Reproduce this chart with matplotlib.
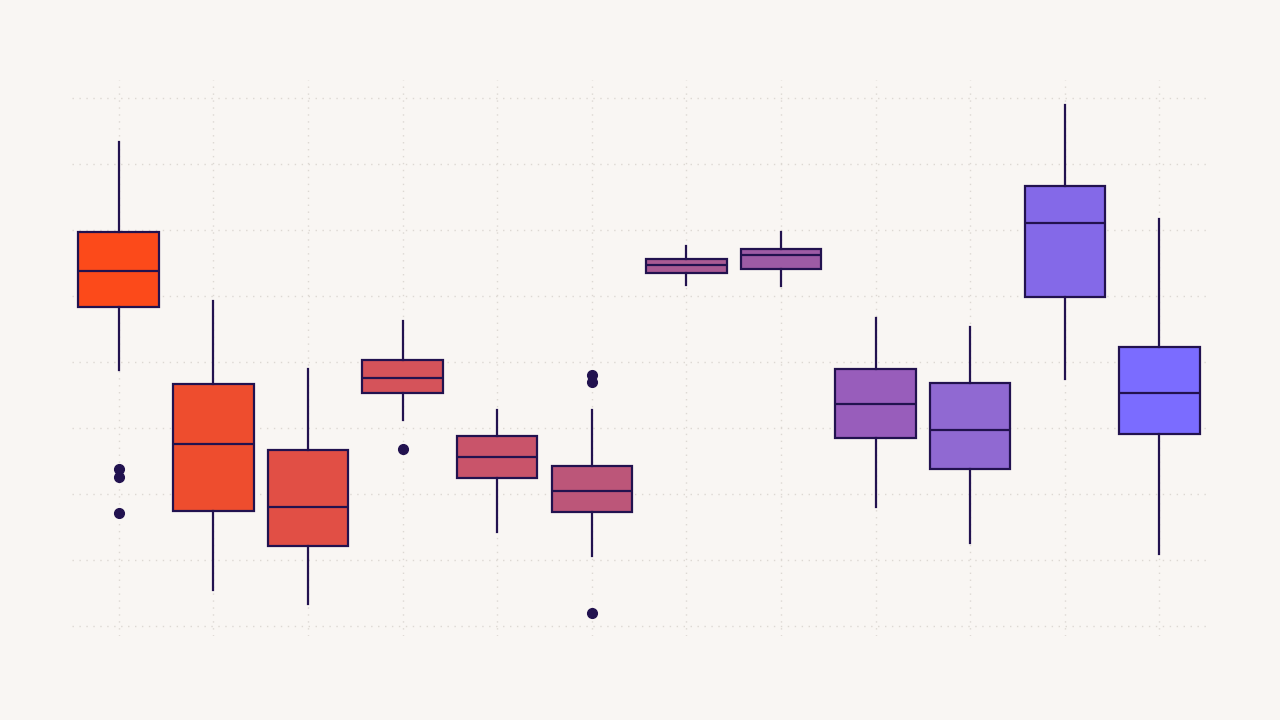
import matplotlib.pyplot as plt

# values (y units = grid steps)
def v(px):
    return (626 - px) / 66.0

whislo = [370, 590, 604, 420, 532, 556, 285, 286, 507, 543, 379, 554]
q1 =     [307, 511, 546, 393, 478, 512, 273, 269, 438, 469, 297, 434]
med =    [271, 444, 507, 378, 457, 491, 265, 255, 404, 430, 223, 393]
q3 =     [232, 384, 450, 360, 436, 466, 259, 249, 369, 383, 186, 347]
whishi = [142, 301, 369, 321, 410, 410, 246, 232, 318, 327, 105, 219]
fliers = [[469, 477, 513], [], [], [449], [], [375, 382, 613], [], [], [], [], [], []]
colors = ['#FC4A1A', '#EE4D2E', '#E14F45', '#D5535A', '#C9546A', '#BC5679',
          '#AA5A93', '#9D5BA5', '#985DBB', '#9069D2', '#8469E8', '#7B6CFF']

stats = []
for i in range(12):
    stats.append(dict(whislo=v(whislo[i]), q1=v(q1[i]), med=v(med[i]), q3=v(q3[i]),
                      whishi=v(whishi[i]), fliers=[v(f) for f in fliers[i]]))

bg = '#F9F6F3'
ink = '#22124F'
fig = plt.figure(figsize=(12.8, 7.2), dpi=100, facecolor=bg)
ax = fig.add_axes([0.056, 0.117, 0.8875, 0.772], facecolor=bg)

bp = ax.bxp(stats, positions=range(1, 13), widths=0.85, patch_artist=True,
            boxprops=dict(edgecolor=ink, linewidth=1.6),
            medianprops=dict(color=ink, linewidth=1.6),
            whiskerprops=dict(color=ink, linewidth=1.6),
            capprops=dict(linewidth=0),
            flierprops=dict(marker='o', markerfacecolor=ink, markeredgecolor=ink, markersize=7))
for patch, c in zip(bp['boxes'], colors):
    patch.set_facecolor(c)

ax.set_xlim(0.503, 12.51)
ax.set_ylim(-0.15, 8.27)
ax.set_yticks(range(0, 9))
ax.set_xticks(range(1, 13))
ax.grid(True, color='#DDD8D3', linestyle=(0, (1, 4)), linewidth=1)
ax.set_axisbelow(True)
ax.tick_params(length=0, labelbottom=False, labelleft=False)
for s in ax.spines.values():
    s.set_visible(False)

fig.savefig('out.png', dpi=100, facecolor=bg)
